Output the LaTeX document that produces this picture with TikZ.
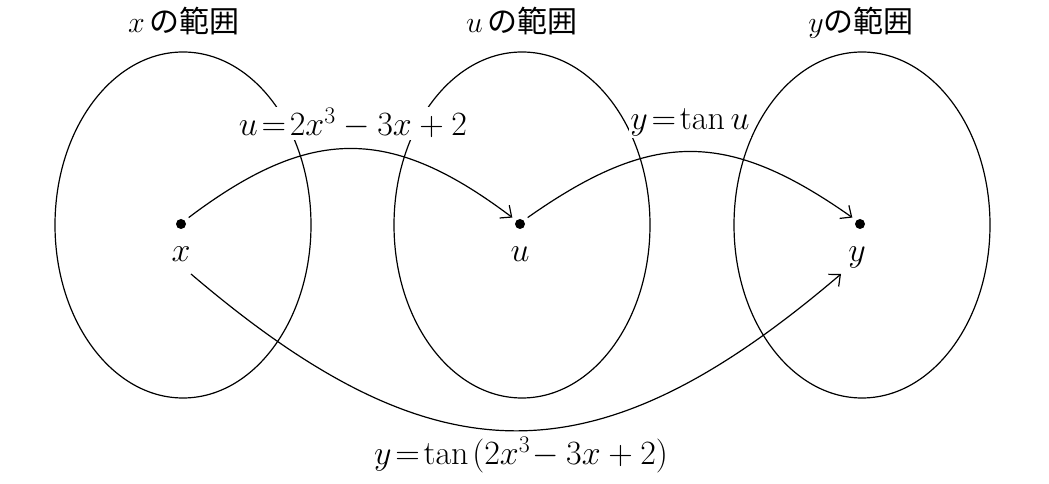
\RequirePackage{fix-cm}
\documentclass[tikz,border=0pt]{standalone}
\usepackage{fontspec}
\newfontfamily\jp{Noto Sans CJK JP}
\usetikzlibrary{arrows.meta,shapes.geometric}
\begin{document}
\begin{tikzpicture}[x=1pt,y=1pt,
  rng/.style={draw, ellipse, line width=1.2pt, inner sep=0pt, minimum width=256pt, minimum height=346pt},
  pt/.style={circle, fill, inner sep=0pt, minimum size=10pt, outer sep=5pt},
  lbl/.style={anchor=base, inner sep=1pt, font=\fontsize{34}{40}\selectfont},
  ttl/.style={anchor=base, inner sep=0pt, font=\fontsize{30}{36}\selectfont},
  fml/.style={anchor=base, fill=white, inner sep=1pt, font=\fontsize{34}{40}\selectfont},
  arr/.style={line width=1.2pt, -{Straight Barb[length=9pt, width=16pt]}}]
\useasboundingbox (0,0) rectangle (1049,484);
% ranges
\node[rng] (ex) at (183,259) {};
\node[rng] (eu) at (522,259) {};
\node[rng] (ey) at (862,259) {};
% titles
\node[ttl] (tx) at (184,451) {$x$\,{\jp の範囲}};
\node[ttl] (tu) at (522,451) {$u$\,{\jp の範囲}};
\node[ttl] (ty) at (861,451) {$y${\jp の範囲}};
% points
\node[pt] (x) at (181,260) {};
\node[pt] (u) at (520,260) {};
\node[pt] (y) at (860,260) {};
\node[lbl] (xl) at (181,222) {$x$};
\node[lbl] (ul) at (520,222) {$u$};
\node[lbl] (yl) at (857,222) {$y$};
% formulas
\node[fml] (f1) at (353,348) {$u\!=\!2x^3-3x+2$};
\node[fml] (f2) at (690,354) {$y\!=\!\tan u$};
\node[anchor=base, inner sep=2pt, font=\fontsize{34}{40}\selectfont] (f3) at (521,19) {$y\!=\!\tan\mkern2mu(2x^3\!-3x+2)$};
% arrows
\draw[arr] (x.40) .. controls +(122,92) and +(-122,92) .. (u.140);
\draw[arr] (u.40) .. controls +(125,88) and +(-125,88) .. (y.140);
\draw[arr] ([shift={(10,-12)}]xl.base) .. controls +(245,-209) and +(-245,-209) .. ([shift={(-16,-12)}]yl.base);
\end{tikzpicture}
\end{document}
